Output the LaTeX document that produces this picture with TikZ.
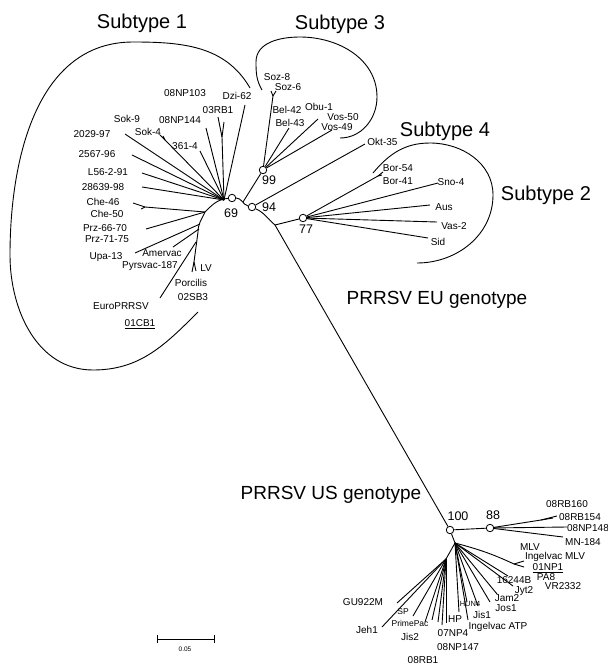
\documentclass[tikz,border=0pt]{standalone}
\usepackage{fontspec}
\setmainfont{Liberation Sans}
\usepackage{tikz}
\tikzset{
  boot/.style={circle,draw,fill=white,inner sep=0pt,minimum size=7.5pt,line width=0.8pt},
  leaf/.style={inner sep=0pt,font=\fontsize{10}{11}\selectfont},
  tiny/.style={inner sep=0pt,font=\fontsize{7.5}{8}\selectfont},
  mid/.style={inner sep=0pt,font=\fontsize{8.5}{9}\selectfont},
  bval/.style={inner sep=0pt,font=\fontsize{12.5}{13}\selectfont},
  group/.style={inner sep=0pt,font=\fontsize{20}{22}\selectfont},
}

\begin{document}
\begin{tikzpicture}[x=1pt,y=-1pt,line width=0.9pt]
\useasboundingbox (0,0) rectangle (608,667);

% supported nodes
\node[boot] (n69) at (232,198) {};
\node[boot] (n99) at (263,170) {};
\node[boot] (n94) at (252,207) {};
\node[boot] (n77) at (303,218) {};
\node[boot] (n100) at (450,530) {};
\node[boot] (n88) at (490,528) {};
\node[bval] (b69) at (231,213) {69};
\node[bval] (b99) at (269,180) {99};
\node[bval] (b94) at (269,207) {94};
\node[bval] (b77) at (306,229) {77};
\node[bval] (b100) at (458,516) {100};
\node[bval] (b88) at (493,515) {88};

% inner junctions
\coordinate (jA) at (275,225);
\coordinate (j99) at (243,202);
\coordinate (j1) at (224,200);
\coordinate (jChe) at (205,212);
\coordinate (jUpa) at (200,224);
\coordinate (jAm) at (199,229);
\coordinate (jLow) at (198,232);
\coordinate (jEu) at (196,242);
\coordinate (jLV) at (194,262);
\coordinate (jB) at (455,543);
\coordinate (jC) at (446,559);

% backbone
\draw (jA) to[out=140,in=-25] (n94);
\draw (n94) to[out=165,in=0] (n69);
\draw (n69) to[out=185,in=45] (jChe) to[out=-115,in=90] (jLow) -- (jLV);
\draw (n99) -- (j99);
\draw (jA) -- (n77);
\draw (jA) -- (n100);
\draw (n100) -- (n88);
\draw (n100) -- (jB);
\draw (jB) -- (jC);

% subtype 1
\coordinate (t2029) at (125,134);
\coordinate (t2567) at (132,155);
\coordinate (tL56) at (142,173);
\coordinate (t28639) at (142,187);
\coordinate (sokF) at (165,140);
\coordinate (tSok9) at (160,135);
\coordinate (tSok4) at (163,136);
\coordinate (t361) at (200,151);
\coordinate (t144) at (206,128);
\coordinate (rbF) at (222,137);
\coordinate (t103) at (218,117);
\coordinate (tRB1) at (224,122);
\coordinate (tDzi) at (245,105);
\coordinate (cheF) at (145,207);
\coordinate (tChe46) at (133,203);
\coordinate (tChe50) at (141,209);
\coordinate (tPrz) at (146,229);
\coordinate (tUpa) at (135,253);
\coordinate (tAmer) at (173,247);
\coordinate (tEuro) at (160,298);
\coordinate (tLV) at (196,271);
\coordinate (tPorc) at (192,272);
\foreach \t in {t2029,t2567,tL56,t28639,sokF,t361,t144,rbF,tDzi}
  \draw (j1) -- (\t);
\draw (sokF) -- (tSok9);
\draw (sokF) -- (tSok4);
\draw (rbF) -- (t103);
\draw (rbF) -- (tRB1);
\draw (jChe) -- (cheF);
\draw (cheF) -- (tChe46);
\draw (cheF) -- (tChe50);
\draw (jChe) -- (tPrz);
\draw (jUpa) -- (tUpa);
\draw (jAm) -- (tAmer);
\draw (jEu) -- (tEuro);
\draw (jLV) -- (tLV);
\draw (jLV) -- (tPorc);

\node[leaf] (l2029) at (92,134) {2029-97};
\node[leaf] (l2567) at (97,154) {2567-96};
\node[leaf] (lL56) at (108,172) {L56-2-91};
\node[leaf] (l28639) at (103,187) {28639-98};
\node[leaf] (lSok9) at (127,119) {Sok-9};
\node[leaf] (lSok4) at (148,132) {Sok-4};
\node[leaf] (l361) at (185,146) {361-4};
\node[leaf] (l144) at (180,120) {08NP144};
\node[leaf] (l103) at (185,93) {08NP103};
\node[leaf] (lRB1) at (218,110) {03RB1};
\node[leaf] (lDzi) at (237,96) {Dzi-62};
\node[leaf] (lChe46) at (103,202) {Che-46};
\node[leaf] (lChe50) at (107,214) {Che-50};
\node[leaf] (lPrz66) at (105,228) {Prz-66-70};
\node[leaf] (lPrz71) at (107,239) {Prz-71-75};
\node[leaf] (lUpa) at (106,257) {Upa-13};
\node[leaf] (lAmer) at (162,253) {Amervac};
\node[leaf] (lPyrs) at (150,266) {Pyrsvac-187};
\node[leaf] (lEuro) at (121,306) {EuroPRRSV};
\node[leaf] (lLV) at (206,268) {LV};
\node[leaf] (lPorc) at (191,283) {Porcilis};
\node[leaf] (l02SB3) at (193,297) {02SB3};
\node[leaf] (l01CB1) at (140,324) {\underline{01CB1}};

% subtype 3
\coordinate (sozF) at (273,96);
\coordinate (tSoz8) at (271,91);
\coordinate (tSoz6) at (276,91);
\coordinate (tBel) at (289,128);
\coordinate (tObu) at (318,119);
\coordinate (tVos) at (332,130);
\coordinate (tOkt) at (365,144);
\foreach \t in {sozF,tBel,tObu,tVos}
  \draw (n99) -- (\t);
\draw (sozF) -- (tSoz8);
\draw (sozF) -- (tSoz6);
\draw (n94) -- (tOkt);
\node[leaf] (lSoz8) at (277,77) {Soz-8};
\node[leaf] (lSoz6) at (288,87) {Soz-6};
\node[leaf] (lBel42) at (287,110) {Bel-42};
\node[leaf] (lBel43) at (290,123) {Bel-43};
\node[leaf] (lObu) at (319,107) {Obu-1};
\node[leaf] (lVos50) at (343,117) {Vos-50};
\node[leaf] (lVos49) at (337,127) {Vos-49};
\node[leaf,anchor=west] (lOkt) at (367,142) {Okt-35};

% subtype 2
\coordinate (borF) at (378,176);
\coordinate (tBor54) at (383,172);
\coordinate (tBor41) at (382,175);
\coordinate (tSno) at (438,183);
\coordinate (tAus) at (430,205);
\coordinate (tVas) at (437,222);
\coordinate (tSid) at (428,238);
\foreach \t in {borF,tSno,tAus,tVas,tSid}
  \draw (n77) -- (\t);
\draw (borF) -- (tBor54);
\draw (borF) -- (tBor41);
\node[leaf] (lBor54) at (398,168) {Bor-54};
\node[leaf] (lBor41) at (398,181) {Bor-41};
\node[leaf] (lSno) at (451,182) {Sno-4};
\node[leaf] (lAus) at (444,207) {Aus};
\node[leaf] (lVas) at (454,226) {Vas-2};
\node[leaf] (lSid) at (438,242) {Sid};

% US genotype
\coordinate (rbF2) at (541,520);
\coordinate (tRB160) at (557,516);
\coordinate (tRB154) at (553,518);
\coordinate (tNP148) at (567,527);
\coordinate (tMN) at (563,537);
\draw (n88) -- (rbF2);
\draw (rbF2) -- (tRB160);
\draw (rbF2) -- (tRB154);
\draw (n88) -- (tNP148);
\draw (n88) -- (tMN);
\node[leaf] (lRB160) at (567,504) {08RB160};
\node[leaf] (lRB154) at (580,517) {08RB154};
\node[leaf] (lNP148) at (588,528) {08NP148};
\node[leaf] (lMN) at (583,542) {MN-184};

\coordinate (mlvF) at (514,564);
\coordinate (tMLV1) at (524,561);
\coordinate (tMLV2) at (524,567);
\draw (jB) to[out=-15,in=155] (mlvF);
\draw (mlvF) -- (tMLV1);
\draw (mlvF) -- (tMLV2);
\node[leaf] (lMLV) at (530,547) {MLV};
\node[leaf] (lIMLV) at (555,557) {Ingelvac MLV};
\node[leaf] (l01NP1) at (548,568) {\underline{01NP1}};
\node[leaf] (lPA8) at (546,577) {PA8};
\node[leaf] (lVR) at (563,586) {VR2332};

\coordinate (t16244) at (508,576);
\coordinate (tJyt) at (513,586);
\coordinate (tJam) at (497,594);
\coordinate (tJos) at (490,602);
\coordinate (tJis1) at (478,606);
\coordinate (tHUN) at (467,602);
\coordinate (tATP) at (468,620);
\coordinate (tHP) at (459,612);
\foreach \t in {t16244,tJyt,tJam,tJos,tJis1,tHUN,tATP,tHP}
  \draw (jB) -- (\t);
\node[leaf] (l16244) at (514,580) {16244B};
\node[leaf] (lJyt) at (524,591) {Jyt2};
\node[leaf] (lJam) at (507,598) {Jam2};
\node[leaf] (lJos) at (506,608) {Jos1};
\node[leaf] (lJis1) at (482,615) {Jis1};
\node[tiny] (lHUN) at (470,604) {HUN4};
\node[leaf] (lATP) at (498,627) {Ingelvac ATP};
\node[leaf] (lHP) at (455,619) {HP};

\coordinate (tGU) at (397,603);
\coordinate (tJeh) at (382,627);
\coordinate (tSP) at (413,616);
\coordinate (tPP) at (425,622);
\coordinate (tJis2) at (432,620);
\coordinate (tRB1b) at (438,622);
\coordinate (t07) at (442,625);
\coordinate (t147) at (446,623);
\foreach \t in {tGU,tJeh,tSP,tPP,tJis2,tRB1b,t07,t147}
  \draw (jC) -- (\t);
\node[leaf] (lGU) at (363,602) {GU922M};
\node[leaf] (lJeh) at (367,630) {Jeh1};
\node[mid] (lSP) at (403,612) {SP};
\node[mid] (lPP) at (410,623) {PrimePac};
\node[leaf] (lJis2) at (410,637) {Jis2};
\node[leaf] (l07) at (453,633) {07NP4};
\node[leaf] (l147) at (458,647) {08NP147};
\node[leaf] (lRB1b) at (423,660) {08RB1};

% subtype outlines
\draw (250,88) to[out=120,in=0] (133,42) to[out=180,in=90] (10,255)
  to[out=-90,in=180] (93,370) to[out=0,in=225] (198,312);
\draw (262,90) to[out=120,in=-90] (256,62) to[out=90,in=180] (300,37)
  to[out=0,in=90] (377,97) to[out=-90,in=0] (340,138);
\draw (373,173) to[out=50,in=180] (430,143) to[out=0,in=90] (493,195)
  to[out=-90,in=0] (417,263);

\node[group] (g1) at (142,23) {Subtype 1};
\node[group] (g3) at (340,24) {Subtype 3};
\node[group] (g4) at (445,131) {Subtype 4};
\node[group] (g2) at (546,195) {Subtype 2};
\node[group,font=\fontsize{19}{21}\selectfont] (eu) at (437,300) {PRRSV EU genotype};
\node[group,font=\fontsize{19}{21}\selectfont] (us) at (331,495) {PRRSV US genotype};

% scale bar
\coordinate (sbL) at (157,639);
\coordinate (sbR) at (214,639);
\draw (sbL) -- (sbR);
\draw ([yshift=4pt]sbL) -- ([yshift=-4pt]sbL);
\draw ([yshift=4pt]sbR) -- ([yshift=-4pt]sbR);
\node[inner sep=0pt,font=\fontsize{6.5}{7}\selectfont] (sb) at (185,649) {0.05};
\end{tikzpicture}
\end{document}
